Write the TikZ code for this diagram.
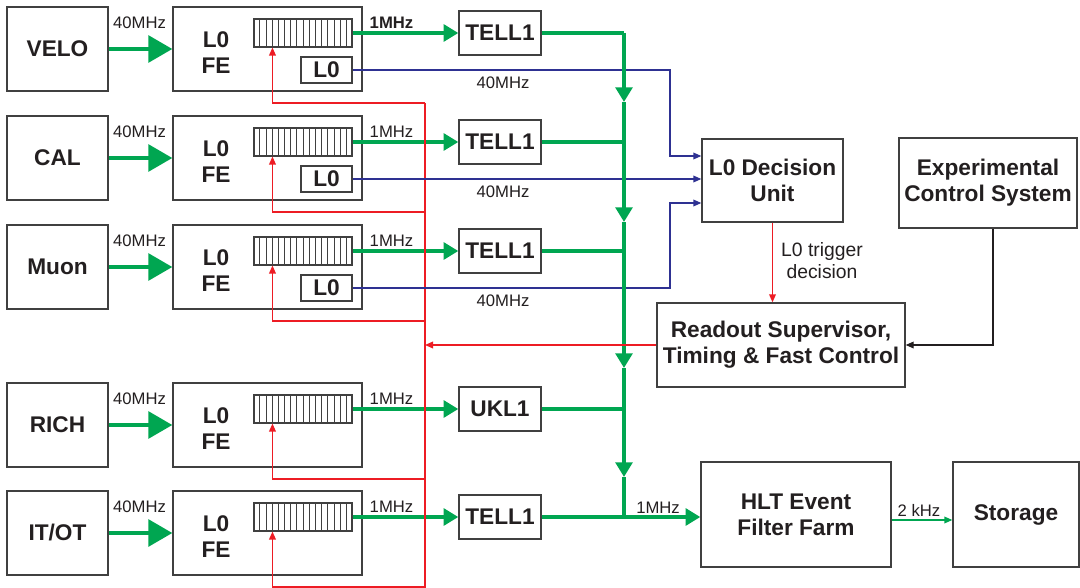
\documentclass[tikz,border=0pt]{standalone}
\usepackage{fontspec}
\setmainfont{Liberation Sans}
\usetikzlibrary{arrows.meta,calc}
\definecolor{lgreen}{RGB}{0,166,81}
\definecolor{lred}{RGB}{237,28,36}
\definecolor{lblue}{RGB}{46,49,146}
\definecolor{bgray}{RGB}{64,64,64}
\definecolor{txt}{RGB}{35,31,32}
\newlength\pxu \setlength\pxu{0.75pt}
\def\itot{IT/OT}
\begin{document}
\begin{tikzpicture}[x=0.75pt,y=-0.75pt,
 box/.style={draw=bgray, line width=1pt, fill=white, inner sep=0pt, text=txt, font=\fontsize{17}{19.5}\selectfont\bfseries, align=center},
 btext/.style={inner sep=0pt, text=txt, font=\fontsize{17}{19.5}\selectfont\bfseries, align=center},
 lbl/.style={text=txt, font=\fontsize{12.5}{15}\selectfont, inner sep=0pt},
 gthick/.style={draw=lgreen, line width=3pt},
 bigarrow/.style={gthick, -{Triangle[length=18pt,width=20pt]}},
 medarrow/.style={gthick, -{Triangle[length=11pt,width=12.5pt]}},
 rline/.style={draw=lred, line width=1pt, -{Triangle[length=6pt,width=5pt]}},
 bline/.style={draw=lblue, line width=1pt, -{Triangle[length=6pt,width=5pt]}},
]
\useasboundingbox (0,0) rectangle (1080,588);
\fill[white] (0,0) rectangle (1080,588);

\foreach \t/\n/\lab/\tl in {7/1/VELO/TELL1, 116/2/CAL/TELL1, 225/3/Muon/TELL1, 383/4/RICH/UKL1, 491/5/\itot/TELL1}{
  \node[box, minimum width=101\pxu, minimum height=84\pxu] (det\n) at (57.5,\t+42) {\lab};
  \node[box, minimum width=189\pxu, minimum height=84\pxu] (fe\n) at (267.5,\t+42) {};
  \node[btext] (fel\n) at (216,\t+46) {L0\\FE};
  \node[draw=bgray, line width=0.8pt, fill=white, minimum width=98\pxu, minimum height=28\pxu, inner sep=0pt] (buf\n) at (303,\t+26) {};
  \foreach \k in {1,...,15}
    \draw[bgray, line width=0.5pt] ($(buf\n.south west)!\k/16!(buf\n.south east)$) -- ($(buf\n.north west)!\k/16!(buf\n.north east)$);
  \ifnum\n<4
    \node[box, minimum width=51\pxu, minimum height=26\pxu] (l0\n) at (326.5,\t+63) {L0};
  \fi
  \node[box, minimum width=82\pxu, minimum height=44\pxu] (tell\n) at (500,\t+26) {\tl};
  \draw[bigarrow] (det\n) -- (fe\n);
  \node[lbl] at (139.5,\t+16) {40MHz};
  \draw[medarrow] (buf\n) -- (tell\n);
  \node[lbl] at (391.5,\t+16) {\ifnum\n=1 \bfseries\fi 1MHz};
  \coordinate (rf\n) at (425,\t+96);
  \draw[rline] (rf\n) -| ([xshift=19\pxu]buf\n.south west);
}
\coordinate (rbot) at (425,592);
\draw[draw=lred, line width=1pt] (rf1) -- (rbot);

% right-hand nodes
\node[box, minimum width=141\pxu, minimum height=83\pxu] (l0du) at (772.5,180.5) {L0 Decision\\Unit};
\node[box, minimum width=178\pxu, minimum height=90\pxu] (ecs) at (988,183) {Experimental\\Control System};
\node[box, minimum width=248\pxu, minimum height=84\pxu] (rs) at (781,345) {Readout Supervisor,\\Timing \& Fast Control};
\node[box, minimum width=190\pxu, minimum height=105\pxu] (hlt) at (796,514.5) {HLT Event\\Filter Farm};
\node[box, minimum width=126\pxu, minimum height=105\pxu] (sto) at (1016,514.5) {Storage};

% blue L0 trigger data
\draw[bline] (l01.east) -- (670,70) |- ([yshift=24.5\pxu]l0du.west);
\draw[bline] (l02.east) -- (l02.east -| l0du.west);
\draw[bline] (l03.east) -- (670,288) |- ([yshift=-22.5\pxu]l0du.west);
\node[lbl] at (503,83) {40MHz};
\node[lbl] at (503,192) {40MHz};
\node[lbl] at (503,301) {40MHz};

% green bus
\coordinate (g0) at (624,33);
\coordinate (g1) at (624,102);
\coordinate (g2) at (624,222);
\coordinate (g3) at (624,368);
\coordinate (g4) at (624,477);
\coordinate (g5) at (624,517);
\draw[gthick] (tell1.east) -- (g0);
\draw[medarrow] (g0) -- (g1);
\draw[medarrow] (g1) -- (g2);
\draw[medarrow] (g2) -- (g3);
\draw[medarrow] (g3) -- (g4);
\draw[gthick] (g4) -- (g5);
\draw[gthick] (tell2.east) -- (tell2.east -| g0);
\draw[gthick] (tell3.east) -- (tell3.east -| g0);
\draw[gthick] (tell4.east) -- (tell4.east -| g0);
\draw[medarrow] (tell5.east) -- (tell5.east -| hlt.west);
\node[lbl] at (658,508) {1MHz};
\draw[draw=lgreen, line width=1pt, -{Triangle[length=6pt,width=5pt]}] ([yshift=-5.5\pxu]hlt.east) -- ([yshift=-5.5\pxu]sto.west);
\node[lbl] at (919,510) {2 kHz};

% control
\draw[rline] (l0du.south) -- (l0du.south |- rs.north);
\node[lbl, font=\fontsize{14.5}{16.5}\selectfont, align=center] at (822,261) {L0 trigger\\decision};
\draw[draw=txt, line width=1pt, -{Triangle[length=6pt,width=5pt]}] ([xshift=5\pxu]ecs.south) |- (rs.east);
\draw[rline] (rs.west) -- (rs.west -| rf1);
\end{tikzpicture}
\end{document}
